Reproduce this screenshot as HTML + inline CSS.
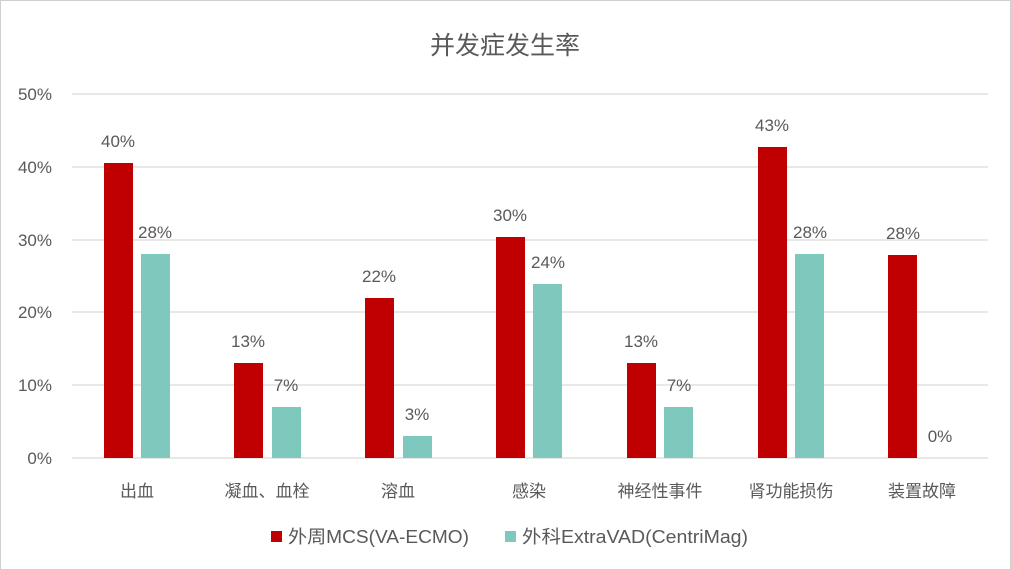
<!DOCTYPE html>
<html><head><meta charset="utf-8"><style>
body{margin:0;background:#fff}
svg{display:block;font-family:"Liberation Sans","Noto Sans CJK SC",sans-serif}
</style></head><body>
<svg width="1011" height="570" viewBox="0 0 1011 570">
<rect x="0.5" y="0.5" width="1010" height="569" fill="#fff" stroke="#d0d0d0"/>
<text x="505" y="54" text-anchor="middle" font-size="25" fill="#595959">并发症发生率</text>
<g stroke="#d9d9d9" stroke-width="1.3">
<line x1="72" x2="988" y1="94" y2="94"/><line x1="72" x2="988" y1="167" y2="167"/>
<line x1="72" x2="988" y1="240" y2="240"/><line x1="72" x2="988" y1="312" y2="312"/>
<line x1="72" x2="988" y1="385" y2="385"/><line x1="72" x2="988" y1="458" y2="458"/>
</g>
<g font-size="17" fill="#595959" text-anchor="end">
<text x="52" y="100">50%</text><text x="52" y="173">40%</text><text x="52" y="246">30%</text>
<text x="52" y="318">20%</text><text x="52" y="391">10%</text><text x="52" y="464">0%</text>
</g>
<g font-size="17" fill="#595959" text-anchor="middle">
<rect x="104" y="163" width="29" height="295" fill="#C00000"/><rect x="141" y="254" width="29" height="204" fill="#7FC8BE"/>
<text x="118" y="147">40%</text><text x="155" y="238">28%</text><text x="137" y="497">出血</text>
<rect x="234" y="363" width="29" height="95" fill="#C00000"/><rect x="272" y="407" width="29" height="51" fill="#7FC8BE"/>
<text x="248" y="347">13%</text><text x="286" y="391">7%</text><text x="267" y="497">凝血、血栓</text>
<rect x="365" y="298" width="29" height="160" fill="#C00000"/><rect x="403" y="436" width="29" height="22" fill="#7FC8BE"/>
<text x="379" y="282">22%</text><text x="417" y="420">3%</text><text x="398" y="497">溶血</text>
<rect x="496" y="237" width="29" height="221" fill="#C00000"/><rect x="533" y="284" width="29" height="174" fill="#7FC8BE"/>
<text x="510" y="221">30%</text><text x="548" y="268">24%</text><text x="529" y="497">感染</text>
<rect x="627" y="363" width="29" height="95" fill="#C00000"/><rect x="664" y="407" width="29" height="51" fill="#7FC8BE"/>
<text x="641" y="347">13%</text><text x="679" y="391">7%</text><text x="660" y="497">神经性事件</text>
<rect x="758" y="147" width="29" height="311" fill="#C00000"/><rect x="795" y="254" width="29" height="204" fill="#7FC8BE"/>
<text x="772" y="131">43%</text><text x="810" y="238">28%</text><text x="791" y="497">肾功能损伤</text>
<rect x="888" y="255" width="29" height="203" fill="#C00000"/>
<text x="903" y="239">28%</text><text x="940" y="442">0%</text><text x="922" y="497">装置故障</text>
</g>
<g font-size="18" fill="#595959">
<rect x="271" y="531" width="11" height="11" fill="#C00000"/>
<text x="288" y="543" textLength="181" lengthAdjust="spacingAndGlyphs">外周MCS(VA-ECMO)</text>
<rect x="505" y="531" width="11" height="11" fill="#7FC8BE"/>
<text x="522" y="543" textLength="226" lengthAdjust="spacingAndGlyphs">外科ExtraVAD(CentriMag)</text>
</g>
</svg>
</body></html>
